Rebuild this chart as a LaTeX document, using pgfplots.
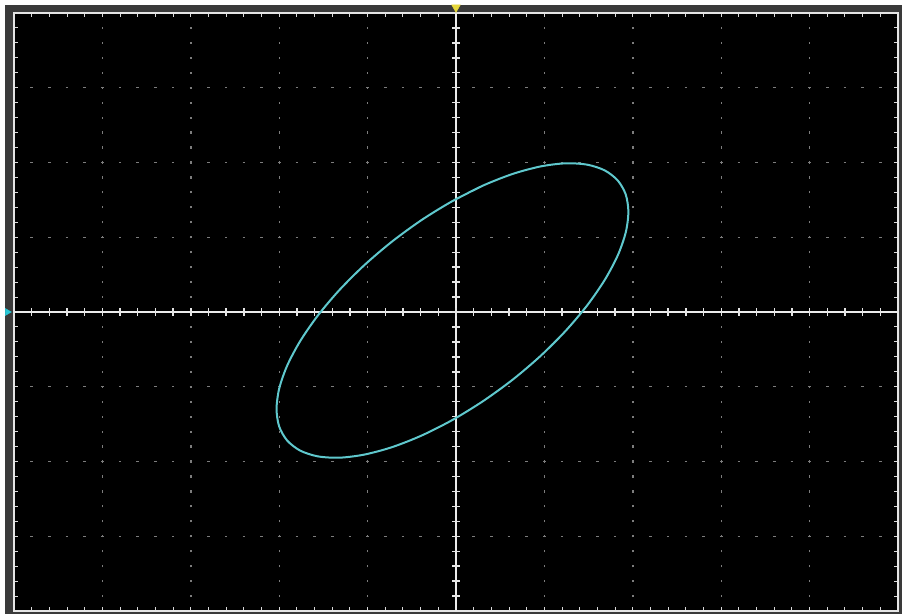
\documentclass[border=0pt]{standalone}
\usepackage{pgfplots}
\pgfplotsset{compat=1.18}
\definecolor{bggray}{RGB}{58,58,58}
\definecolor{gridgray}{RGB}{125,125,125}
\definecolor{trace}{RGB}{95,200,205}
\definecolor{ymark}{RGB}{230,215,60}
\definecolor{cmark}{RGB}{40,200,215}
\begin{document}
\begin{tikzpicture}
\path[use as bounding box] (0,0) rectangle (902pt,614pt);
\fill[white] (0,0) rectangle (902pt,614pt);
\fill[bggray] (5pt,0) rectangle (902pt,609pt);
\begin{axis}[
  at={(14pt,3pt)}, anchor=south west,
  scale only axis, width=884pt, height=598pt,
  xmin=-5, xmax=5, ymin=-4, ymax=4,
  xtick={-5,-4,...,5}, ytick={-4,-3,...,4},
  minor tick num=4,
  xticklabels={}, yticklabels={},
  tick align=inside,
  major tick length=4pt, minor tick length=4pt,
  tick style={white!85!black, line width=1pt},
  axis line style={white!90!black, line width=1.8pt},
  axis background/.style={fill=black},
  grid=major,
  major x grid style={gridgray, line width=1.4pt, dash pattern=on 2.2pt off 12.75pt, dash phase=1.1pt},
  major y grid style={gridgray, line width=1.4pt, dash pattern=on 2.6pt off 15.08pt, dash phase=1.3pt},
  clip=false,
]
% centre axes
\draw[white!92!black, line width=1.5pt] (axis cs:-5,0) -- (axis cs:5,0);
\draw[white!92!black, line width=1.5pt] (axis cs:0,-4) -- (axis cs:0,4);
\pgfplotsinvokeforeach{-24,-23,...,24}{
  \draw[white!90!black, line width=1.4pt] (axis cs:{#1*0.2},-0.05) -- (axis cs:{#1*0.2},0.05);
}
\pgfplotsinvokeforeach{-19,-18,...,19}{
  \draw[white!90!black, line width=1.4pt] (axis cs:-0.045,{#1*0.2}) -- (axis cs:0.045,{#1*0.2});
}
% XY trace (Lissajous ellipse)
\addplot[trace, line width=2pt, smooth, no markers] coordinates {
(-0.040,1.484) (0.305,1.691) (0.641,1.847) (0.955,1.947) (1.239,1.989)
(1.484,1.971) (1.683,1.894) (1.830,1.759) (1.920,1.572) (1.950,1.338)
(1.920,1.064) (1.830,0.758) (1.683,0.430) (1.484,0.089) (1.239,-0.254)
(0.955,-0.589) (0.641,-0.905) (0.305,-1.193) (-0.040,-1.444) (-0.386,-1.651)
(-0.721,-1.807) (-1.035,-1.907) (-1.319,-1.949) (-1.564,-1.931) (-1.763,-1.854)
(-1.910,-1.719) (-2.000,-1.532) (-2.030,-1.298) (-2.000,-1.024) (-1.910,-0.718)
(-1.763,-0.390) (-1.564,-0.049) (-1.319,0.294) (-1.035,0.629) (-0.721,0.945)
(-0.386,1.233) (-0.040,1.484) (0.305,1.691)
};
% channel markers
\addplot[only marks, mark=triangle*, mark size=5pt, ymark, mark options={rotate=180, fill=ymark}] coordinates {(0,4.075)};
\addplot[only marks, mark=triangle*, mark size=4pt, cmark, mark options={rotate=-90, fill=cmark}] coordinates {(-5.075,0)};
\end{axis}
\end{tikzpicture}
\end{document}
